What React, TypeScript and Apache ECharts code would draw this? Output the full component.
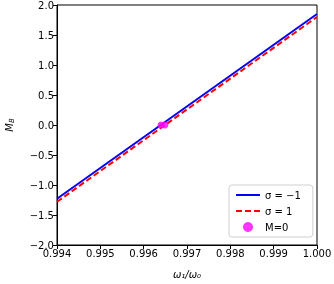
import React, { useEffect, useRef } from "react";
import * as echarts from "echarts";

const xEnds = [0.994, 1.0];
const blueY = [-1.23, 1.85];
const redY = [-1.28, 1.8];
const zeroX = [0.9964, 0.99649];
const zeroY = [0, 0];
const xTicks = { min: 0.994, max: 1.0, step: 0.001 };
const yTicks = { min: -2, max: 2, step: 0.5 };

const FONT = "DejaVu Sans";
const fmtMinus = (s: string) => s.replace("-", "\u2212");

export default function App() {
  const ref = useRef<HTMLDivElement>(null);
  useEffect(() => {
    const chart = echarts.init(ref.current!, null, { renderer: "svg" });
    const hideSym = { color: "transparent", borderWidth: 0, opacity: 0 };
    chart.setOption({
      animation: false,
      textStyle: { fontFamily: FONT },
      grid: {
        left: 57,
        right: 17,
        top: 5,
        bottom: 39,
        outerBoundsMode: "none",
        containLabel: false,
        show: true,
        borderColor: "#000",
        borderWidth: 1,
        backgroundColor: "transparent",
      },
      legend: {
        orient: "vertical",
        left: 229,
        top: 185,
        itemWidth: 24,
        itemHeight: 10,
        itemGap: 6,
        padding: [5, 12, 5, 6],
        borderColor: "#d0d0d0",
        borderWidth: 1,
        borderRadius: 3,
        backgroundColor: "#fff",
        textStyle: { fontFamily: FONT, fontSize: 10, color: "#000" },
        data: [
          { name: "\u03c3 = \u22121", itemStyle: hideSym },
          { name: "\u03c3 = 1", itemStyle: hideSym },
          { name: "M=0", icon: "circle" },
        ],
      },
      xAxis: {
        type: "value",
        min: xTicks.min,
        max: xTicks.max,
        interval: xTicks.step,
        name: "\u03c9\u2081/\u03c9\u2080",
        nameLocation: "middle",
        nameGap: 24,
        nameTextStyle: { fontFamily: FONT, fontSize: 10, color: "#000", fontStyle: "italic" },
        axisLine: { show: true, onZero: false, lineStyle: { color: "#000", width: 1 } },
        axisTick: { show: true, inside: false, length: 4, lineStyle: { color: "#000" } },
        axisLabel: {
          fontFamily: FONT,
          fontSize: 10,
          color: "#000",
          margin: 3,
          formatter: (v: number) => v.toFixed(3),
        },
        splitLine: { show: false },
      },
      yAxis: {
        type: "value",
        min: yTicks.min,
        max: yTicks.max,
        interval: yTicks.step,
        name: "{m|M}{b|B}",
        nameLocation: "middle",
        nameRotate: 90,
        nameGap: 42,
        nameTextStyle: {
          rich: {
            m: { fontFamily: FONT, fontSize: 10, fontStyle: "italic", color: "#000" },
            b: { fontFamily: FONT, fontSize: 7, fontStyle: "italic", color: "#000", padding: [5, 0, 0, 0] },
          },
        },
        axisLine: { show: true, onZero: false, lineStyle: { color: "#000", width: 1 } },
        axisTick: { show: true, inside: false, length: 4, lineStyle: { color: "#000" } },
        axisLabel: {
          fontFamily: FONT,
          fontSize: 10,
          color: "#000",
          margin: 3,
          formatter: (v: number) => fmtMinus(v.toFixed(1)),
        },
        splitLine: { show: false },
      },
      series: [
        {
          name: "\u03c3 = \u22121",
          type: "line",
          data: xEnds.map((x, i) => [x, blueY[i]]),
          showSymbol: false,
          symbol: "none",
          lineStyle: { color: "#0000ff", width: 2 },
          itemStyle: { color: "#0000ff" },
        },
        {
          name: "\u03c3 = 1",
          type: "line",
          data: xEnds.map((x, i) => [x, redY[i]]),
          showSymbol: false,
          symbol: "none",
          lineStyle: { color: "#ff0000", width: 2, type: [6, 3] },
          itemStyle: { color: "#ff0000" },
        },
        {
          name: "M=0",
          type: "scatter",
          data: zeroX.map((x, i) => [x, zeroY[i]]),
          symbolSize: 7,
          itemStyle: { color: "#ff00ff" },
          z: 5,
        },
      ],
    });
    return () => chart.dispose();
  }, []);
  return (
    <div
      ref={ref}
      style={{ position: "fixed", left: 0, top: 0, width: 334, height: 284 }}
    />
  );
}
